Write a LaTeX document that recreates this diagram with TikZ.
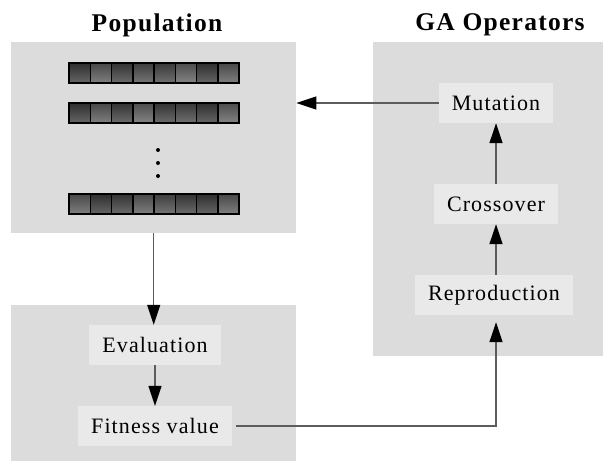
\documentclass[tikz,border=0pt]{standalone}
\usepackage{fontspec}
\setmainfont[LetterSpace=5]{Liberation Serif}
\usetikzlibrary{arrows.meta}
\definecolor{panelgray}{HTML}{DCDCDC}
\definecolor{boxgray}{HTML}{E9E9E9}
\definecolor{linegray}{HTML}{5C5C5C}
\begin{document}
\begin{tikzpicture}[x=1pt,y=-1pt,
	panel/.style={fill=panelgray,anchor=north west,inner sep=0pt},
	title/.style={font=\fontsize{25.5}{30}\selectfont\bfseries},
	op/.style={fill=boxgray,minimum height=40pt,inner xsep=13pt,font=\fontsize{22}{26}\selectfont},
	gene/.style={draw=black,line width=1.5pt,minimum width=21.25pt,minimum height=20pt,inner sep=0pt},
	link/.style={draw=linegray,line width=1.2pt,-{Triangle[length=20pt,width=13pt,color=black]}}]
	\useasboundingbox (0,0) rectangle (604,461);
	
	\node[panel,minimum width=285pt,minimum height=191pt] (popbox) at (11,42) {};
	\node[panel,minimum width=230pt,minimum height=314pt] (gabox) at (373,42) {};
	\node[panel,minimum width=285pt,minimum height=156pt] (evalbox) at (11,305) {};
	\node[title] (poptitle) at (157,25) {Population};
	\node[title] (gatitle) at (500,25) {GA Operators};
	
	\foreach \y/\shades [count=\r] in {73/{82,72,80,76,78,70,82,72},113/{82,72,80,70,80,78,82,70},204/{72,82,80,72,76,80,82,72}}
		\foreach \s [count=\i from 0] in \shades {
			\pgfmathtruncatemacro\lt{\s-22}
			\node[gene,top color=black!\s,bottom color=black!\lt] (gene-\r-\i) at ({79.625+21.25*\i},\y) {};
		}
	\foreach \y in {150,163,176}
		\fill (158,\y) circle (2pt);
	
	\node[op] (mut) at (496,103) {Mutation};
	\node[op] (cross) at (496,204) {Crossover};
	\node[op] (repro) at (494,295) {Reproduction};
	\node[op] (eval) at (155,345) {Evaluation};
	\node[op] (fit) at (155,426) {Fitness value};
	
	\coordinate (bend) at (cross.south |- fit.east);
	\draw[link] (mut.west) -- (mut.west -| popbox.east);
	\draw[link] (popbox.south) -- (popbox.south |- eval.north);
	\draw[link] (eval) -- (fit);
	\draw[link] (repro.north -| cross.south) -- (cross.south);
	\draw[link] (cross) -- (mut);
	\draw[link,shorten <=4pt,shorten >=7pt] (fit.east) -- (bend) -- (bend |- repro.south);
\end{tikzpicture}
\end{document}
